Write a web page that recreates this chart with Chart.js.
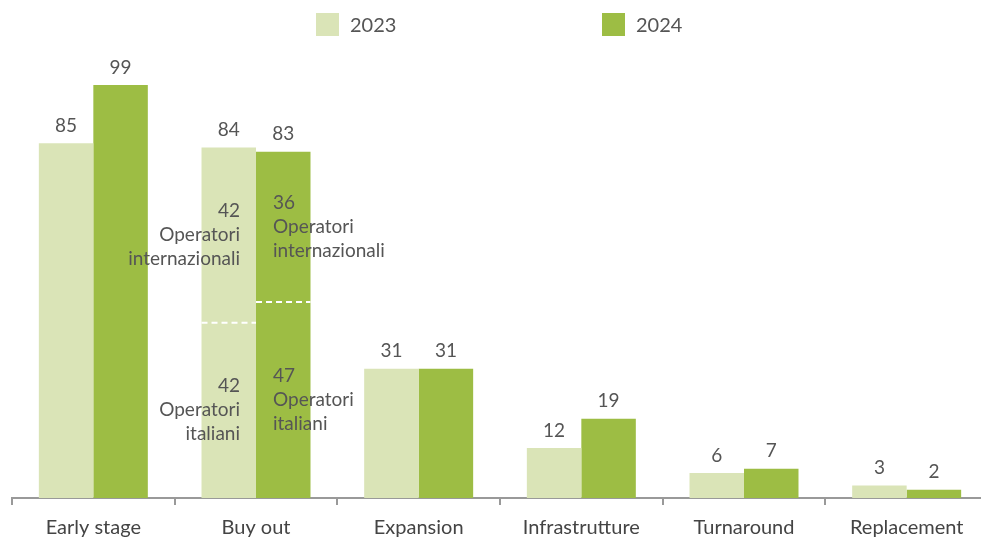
<!DOCTYPE html>
<html>
<head>
<meta charset="utf-8">
<script src="https://cdn.jsdelivr.net/npm/chart.js@4"></script>
<style>
  html, body { margin: 0; padding: 0; background: #fff; overflow: hidden; }
  #wrap { position: relative; width: 981px; height: 537px; overflow: hidden; }
  #legend { position: absolute; top: 12px; left: 0; width: 981px; height: 24px; font-family: Lato, sans-serif; font-size: 20px; color: #555; }
  .item { position: absolute; top: 0; display: flex; align-items: center; }
  .box { width: 23px; height: 23px; margin-right: 11px; }
</style>
</head>
<body>
<div id="wrap">
  <canvas id="chart" width="988" height="537"></canvas>
  <div id="legend"></div>
</div>
<script>
const categories = ['Early stage', 'Buy out', 'Expansion', 'Infrastrutture', 'Turnaround', 'Replacement'];
const seriesNames = ['2023', '2024'];
const values2023 = [85, 84, 31, 12, 6, 3];
const values2024 = [99, 83, 31, 19, 7, 2];
// Buy out split: [2023, 2024]
const buyOutInternazionali = [42, 36];
const buyOutItaliani = [42, 47];
const colors = ['#dae4b7', '#9dbd44'];

const legendX = [316, 602];
const legend = document.getElementById('legend');
seriesNames.forEach((name, i) => {
  const el = document.createElement('div');
  el.className = 'item';
  el.style.left = legendX[i] + 'px';
  el.innerHTML = '<span class="box" style="background:' + colors[i] + '"></span>' + name;
  legend.appendChild(el);
});

const labelPlugin = {
  id: 'labels',
  afterDatasetsDraw(chart) {
    const ctx = chart.ctx;
    const y = chart.scales.y;
    ctx.save();
    ctx.font = '19px Lato, sans-serif';
    ctx.fillStyle = '#555';
    ctx.textAlign = 'center';
    ctx.textBaseline = 'bottom';
    chart.data.datasets.forEach((ds, di) => {
      chart.getDatasetMeta(di).data.forEach((bar, i) => {
        ctx.fillText(ds.data[i], bar.x, bar.y - 8);
      });
    });

    // Buy out breakdown
    const idx = categories.indexOf('Buy out');
    [0, 1].forEach(di => {
      const bar = chart.getDatasetMeta(di).data[idx];
      const total = chart.data.datasets[di].data[idx];
      const ita = buyOutItaliani[di];
      const left = bar.x - bar.width / 2, right = bar.x + bar.width / 2;
      const splitY = y.getPixelForValue(ita);
      // dashed separator
      ctx.strokeStyle = '#fff';
      ctx.lineWidth = 2;
      ctx.setLineDash([6, 4]);
      ctx.beginPath();
      ctx.moveTo(left, splitY);
      ctx.lineTo(right, splitY);
      ctx.stroke();
      ctx.setLineDash([]);

      const blocks = [
        [buyOutInternazionali[di], 'internazionali', (y.getPixelForValue(total) + splitY) / 2],
        [ita, 'italiani', (splitY + y.getPixelForValue(0)) / 2]
      ];
      ctx.fillStyle = '#555';
      ctx.textBaseline = 'middle';
      ctx.textAlign = di === 0 ? 'right' : 'left';
      const tx = di === 0 ? right - 16 : left + 17;
      blocks.forEach(([v, word, cy]) => {
        ctx.fillText(String(v), tx, cy - 24);
        ctx.fillText('Operatori', tx, cy);
        ctx.fillText(word, tx, cy + 24);
      });
    });
    ctx.restore();
  }
};

new Chart(document.getElementById('chart'), {
  type: 'bar',
  data: {
    labels: categories,
    datasets: [
      { label: seriesNames[0], data: values2023, backgroundColor: colors[0] },
      { label: seriesNames[1], data: values2024, backgroundColor: colors[1] }
    ]
  },
  options: {
    responsive: false,
    animation: false,
    events: [],
    categoryPercentage: 0.67,
    barPercentage: 1,
    layout: { padding: { left: 12, right: 0, top: 39, bottom: 0 } },
    plugins: { legend: { display: false }, tooltip: { enabled: false } },
    scales: {
      x: {
        afterFit(scale) { scale.height = 39; },
        grid: { drawOnChartArea: false, drawTicks: true, tickLength: 7, color: '#999', lineWidth: 2 },
        border: { display: true, color: '#999', width: 2 },
        ticks: { color: '#444', padding: 11, font: { family: 'Lato, sans-serif', size: 20 } }
      },
      y: { display: false, min: 0, max: 110 }
    }
  },
  plugins: [labelPlugin]
});
</script>
</body>
</html>
